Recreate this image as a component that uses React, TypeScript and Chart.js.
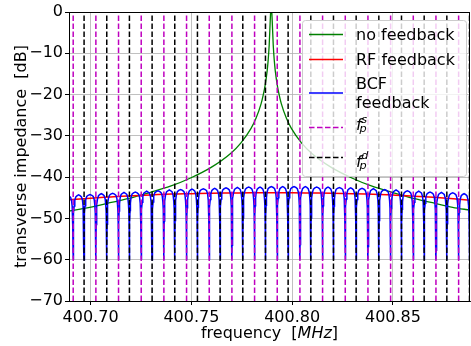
import React, { useEffect, useRef } from "react";
import { Chart, registerables } from "chart.js";

Chart.register(...registerables);

// ---------- axis ranges and ticks ----------
const X_MIN = 400.6893;
const X_MAX = 400.8882;
const Y_MIN = -70;
const Y_MAX = 0;
const xTickValues = [400.7, 400.75, 400.8, 400.85];
const yTickValues = [0, -10, -20, -30, -40, -50, -60, -70];

// ---------- revolution harmonics (MHz) ----------
const fpS = [
  400.69138, 400.70263, 400.71387, 400.72512, 400.73636, 400.74761, 400.75886, 400.7701, 400.78135,
  400.79259, 400.80384, 400.81508, 400.82633, 400.83758, 400.84882, 400.86007, 400.87131, 400.88256,
];
const fpD = [
  400.69678, 400.70803, 400.71927, 400.73052, 400.74176, 400.75301, 400.76426, 400.7755, 400.78675,
  400.79799, 400.80924, 400.82048, 400.83173, 400.84298, 400.85422, 400.86547, 400.87671, 400.88796,
];

// ---------- no feedback (green) ----------
const greenFreq = [
  400.6893, 400.6996, 400.7096, 400.7196, 400.7296, 400.7396, 400.7496, 400.7596, 400.7696, 400.7746,
  400.7796, 400.7821, 400.7846, 400.7856, 400.7866, 400.7876, 400.7881, 400.7886, 400.7891, 400.7894,
  400.7896, 400.7898, 400.7901, 400.7906, 400.7911, 400.7916, 400.7926, 400.7936, 400.7946, 400.7971,
  400.7996, 400.8046, 400.8096, 400.8196, 400.8296, 400.8396, 400.8496, 400.8596, 400.8696, 400.8796,
  400.8882,
];
const greenDb = [
  -48.2, -47.3, -46.2, -45.1, -43.7, -42.2, -40.2, -37.7, -34.2, -31.7,
  -28.2, -25.7, -22.2, -20.2, -17.7, -14.2, -11.6, -8.0, -2.2, 1.0,
  3.0, 1.0, -2.2, -8.0, -11.6, -14.2, -17.7, -20.2, -22.2, -25.7,
  -28.2, -31.7, -34.2, -37.7, -40.2, -42.2, -43.7, -45.1, -46.2, -47.3,
  -48.0,
];

// ---------- RF feedback (red) ----------
const redFreq = [
  400.6893, 400.7, 400.71, 400.72, 400.73, 400.74, 400.75, 400.76, 400.77, 400.78, 400.79,
  400.8, 400.81, 400.82, 400.83, 400.84, 400.85, 400.86, 400.87, 400.88, 400.8882,
];
const redDb = [
  -45.5, -45.1, -44.8, -44.5, -44.3, -44.1, -44.0, -43.9, -43.85, -43.8, -43.8,
  -43.8, -43.85, -43.9, -44.0, -44.15, -44.3, -44.6, -44.9, -45.25, -45.6,
];

// ---------- BCF feedback (blue) ----------
// level of the plateau in each gap: left edge, 35 gaps between notches, right edge
const bcfTopDb = [
  -44.4, -44.3, -44.2, -44.0, -43.9, -43.7, -43.6, -43.4, -43.3, -43.1, -43.0, -42.9, -42.8,
  -42.7, -42.6, -42.5, -42.4, -42.4, -42.3, -42.3, -42.3, -42.3, -42.4, -42.4, -42.5, -42.6,
  -42.7, -42.8, -43.0, -43.1, -43.3, -43.4, -43.6, -43.7, -43.8, -44.0, -44.0,
];
const bcfNotchFloorDb = -60;
const notchOffsetMHz = [0.002, 0.0013, 0.0008, 0.0005, 0.0003, 0.00015, 0.00006];
const notchDropDb = [-0.2, -0.5, -1.3, -2.7, -4.5, -7.5, -14];

// ---------- legend ----------
const legendLabels = ["no feedback", "RF feedback", "BCF", "feedback"];

const FONT = '"DejaVu Sans", "Liberation Sans", sans-serif';
const GREEN = "#008000";
const RED = "#ff0000";
const BLUE = "#0000ff";
const MAGENTA = "#bf00bf";
const BLACK = "#000000";
const DASH = [5.5, 2.5];

function buildBcf() {
  const dips = [...fpS, ...fpD].sort((a, b) => a - b);
  const pts: { x: number; y: number }[] = [];
  pts.push({ x: dips[0] - 0.0028, y: bcfTopDb[0] });
  dips.forEach((d, i) => {
    const lt = bcfTopDb[i];
    const rt = bcfTopDb[i + 1];
    for (let k = 0; k < notchOffsetMHz.length; k++) pts.push({ x: d - notchOffsetMHz[k], y: lt + notchDropDb[k] });
    pts.push({ x: d, y: bcfNotchFloorDb });
    for (let k = notchOffsetMHz.length - 1; k >= 0; k--) pts.push({ x: d + notchOffsetMHz[k], y: rt + notchDropDb[k] });
    const next = i + 1 < dips.length ? dips[i + 1] : d + 0.0056;
    pts.push({ x: (d + next) / 2, y: rt });
  });
  return pts;
}

function vlines(freqs: number[]) {
  const out: { x: number; y: number | null }[] = [];
  freqs.forEach((f) => {
    out.push({ x: f, y: Y_MIN });
    out.push({ x: f, y: Y_MAX });
    out.push({ x: f, y: null });
  });
  return out;
}

const decorPlugin = {
  id: "decor",
  afterDraw(chart: any) {
    const ctx = chart.ctx as CanvasRenderingContext2D;
    const a = chart.chartArea;
    ctx.save();
    // spines
    ctx.strokeStyle = "#000";
    ctx.lineWidth = 1;
    ctx.setLineDash([]);
    ctx.strokeRect(Math.round(a.left) + 0.5, Math.round(a.top) + 0.5, Math.round(a.right - a.left) - 1, Math.round(a.bottom - a.top));

    // axis titles
    ctx.fillStyle = "#000";
    ctx.textBaseline = "alphabetic";
    ctx.font = `16px ${FONT}`;
    const p1 = "frequency  [";
    const p3 = "]";
    const w1 = ctx.measureText(p1).width;
    const w3 = ctx.measureText(p3).width;
    ctx.font = `italic 16px ${FONT}`;
    const p2 = "MHz";
    const w2 = ctx.measureText(p2).width;
    const cx = (a.left + a.right) / 2;
    let x0 = cx - (w1 + w2 + w3) / 2;
    const by = 338;
    ctx.font = `16px ${FONT}`;
    ctx.textAlign = "left";
    ctx.fillText(p1, x0, by);
    ctx.font = `italic 16px ${FONT}`;
    ctx.fillText(p2, x0 + w1, by);
    ctx.font = `16px ${FONT}`;
    ctx.fillText(p3, x0 + w1 + w2, by);

    ctx.save();
    ctx.translate(25.5, (a.top + a.bottom) / 2);
    ctx.rotate(-Math.PI / 2);
    ctx.textAlign = "center";
    ctx.fillText("transverse impedance  [dB]", 0, 0);
    ctx.restore();

    // legend box
    const lx = 302.5, ly = 20.5, lw = 164, lh = 156, r = 3;
    ctx.beginPath();
    ctx.moveTo(lx + r, ly);
    ctx.lineTo(lx + lw - r, ly);
    ctx.arcTo(lx + lw, ly, lx + lw, ly + r, r);
    ctx.lineTo(lx + lw, ly + lh - r);
    ctx.arcTo(lx + lw, ly + lh, lx + lw - r, ly + lh, r);
    ctx.lineTo(lx + r, ly + lh);
    ctx.arcTo(lx, ly + lh, lx, ly + lh - r, r);
    ctx.lineTo(lx, ly + r);
    ctx.arcTo(lx, ly, lx + r, ly, r);
    ctx.closePath();
    ctx.fillStyle = "rgba(255,255,255,0.8)";
    ctx.fill();
    ctx.strokeStyle = "#cccccc";
    ctx.lineWidth = 1;
    ctx.stroke();

    const hx0 = 309, hx1 = 343, tx = 356;
    const handle = (y: number, color: string, dash: number[]) => {
      ctx.beginPath();
      ctx.setLineDash(dash);
      ctx.strokeStyle = color;
      ctx.lineWidth = 1.5;
      ctx.moveTo(hx0, y);
      ctx.lineTo(hx1, y);
      ctx.stroke();
      ctx.setLineDash([]);
    };
    handle(34.5, GREEN, []);
    handle(59.5, RED, []);
    handle(93, BLUE, []);
    handle(127.5, MAGENTA, DASH);
    handle(157.5, BLACK, DASH);

    ctx.fillStyle = "#000";
    ctx.textAlign = "left";
    ctx.font = `16px ${FONT}`;
    ctx.fillText(legendLabels[0], tx, 40);
    ctx.fillText(legendLabels[1], tx, 65);
    ctx.fillText(legendLabels[2], tx, 88.5);
    ctx.fillText(legendLabels[3], tx, 107.5);

    const fp = (fy: number, sup: string, supY: number, subY: number) => {
      ctx.font = `italic 16px ${FONT}`;
      ctx.fillText("f", tx, fy);
      ctx.font = `italic 11.2px ${FONT}`;
      ctx.fillText(sup, tx + 5.2, supY);
      ctx.fillText("p", tx + 3.6, subY);
    };
    fp(129.5, "s", 122.7, 131.8);
    fp(166.5, "d", 159, 168.5);

    ctx.restore();
  },
};

export default function App() {
  const ref = useRef<HTMLCanvasElement | null>(null);
  useEffect(() => {
    if (!ref.current) return;
    const green = greenFreq.map((f, i) => ({ x: f, y: greenDb[i] }));
    const red = redFreq.map((f, i) => ({ x: f, y: redDb[i] }));
    const chart = new Chart(ref.current, {
      type: "line",
      data: {
        datasets: [
          { label: "f_p^d", data: vlines(fpD), borderColor: BLACK, borderWidth: 1.5, borderDash: DASH, pointRadius: 0, spanGaps: false, order: 0 },
          { label: "f_p^s", data: vlines(fpS), borderColor: MAGENTA, borderWidth: 1.5, borderDash: DASH, pointRadius: 0, spanGaps: false, order: 1 },
          { label: "BCF feedback", data: buildBcf(), borderColor: BLUE, borderWidth: 1.5, pointRadius: 0, tension: 0, order: 2 },
          { label: "RF feedback", data: red, borderColor: RED, borderWidth: 1.5, pointRadius: 0, cubicInterpolationMode: "monotone", order: 3 },
          { label: "no feedback", data: green, borderColor: GREEN, borderWidth: 1.3, pointRadius: 0, cubicInterpolationMode: "monotone", order: 4 },
        ] as any,
      },
      options: {
        animation: false,
        responsive: false,
        devicePixelRatio: 1,
        events: [],
        layout: { padding: { top: 12, right: 1, left: 0, bottom: 0 } },
        plugins: { legend: { display: false }, tooltip: { enabled: false } },
        scales: {
          x: {
            type: "linear",
            min: X_MIN,
            max: X_MAX,
            afterBuildTicks: (s: any) => {
              s.ticks = xTickValues.map((v) => ({ value: v }));
            },
            afterFit: (s: any) => {
              s.height = 45;
            },
            ticks: {
              autoSkip: false,
              maxRotation: 0,
              color: "#000",
              padding: 3.5,
              font: { family: FONT, size: 16 },
              callback: (v: any) => Number(v).toFixed(2),
            },
            grid: { color: "#b0b0b0", lineWidth: 0.8, tickColor: "#000", tickLength: 4, tickWidth: 1 },
            border: { display: true, color: "#000", width: 1 },
          },
          y: {
            type: "linear",
            min: Y_MIN,
            max: Y_MAX,
            afterBuildTicks: (s: any) => {
              s.ticks = yTickValues.map((v) => ({ value: v }));
            },
            afterFit: (s: any) => {
              s.width = 69;
            },
            ticks: {
              autoSkip: false,
              color: "#000",
              padding: 2,
              font: { family: FONT, size: 16 },
              callback: (v: any) => (Number(v) === 0 ? "0" : "\u2212" + Math.abs(Number(v))),
            },
            grid: { color: "#b0b0b0", lineWidth: 0.8, tickColor: "#000", tickLength: 4, tickWidth: 1 },
            border: { display: true, color: "#000", width: 1 },
          },
        },
      } as any,
      plugins: [decorPlugin],
    });
    return () => chart.destroy();
  }, []);
  return (
    <div style={{ position: "fixed", left: 0, top: 0, width: 471, height: 346, background: "#fff" }}>
      <canvas ref={ref} width={471} height={346} style={{ width: 471, height: 346, display: "block" }} />
    </div>
  );
}
